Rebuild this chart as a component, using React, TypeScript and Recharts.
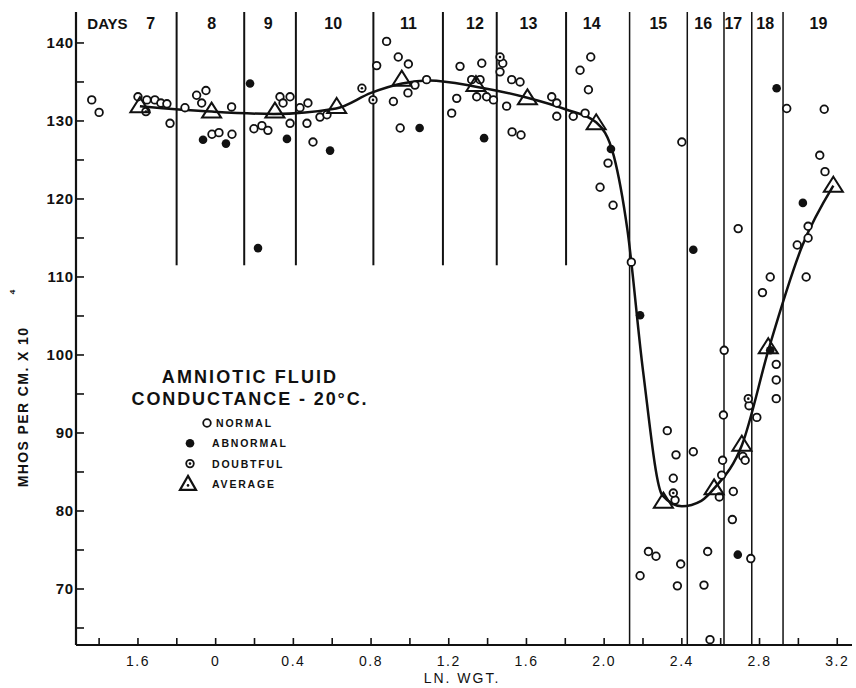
import { ComposedChart, Scatter, Line, XAxis, YAxis, ReferenceLine } from 'recharts'

// x = ln weight, y = conductance (mhos/cm x 10^-4)
const normalPts = [
  [-0.638, 132.7], [-0.6, 131.1], [-0.4, 133.1], [-0.354, 132.7], [-0.313, 132.7], [-0.282, 132.3], [-0.251, 132.2], [-0.158, 131.7], [-0.235, 129.7],
  [-0.098, 133.3], [-0.05, 133.9], [-0.072, 132.3], [0.082, 131.8], [-0.019, 128.3], [0.017, 128.5], [0.084, 128.3],
  [0.197, 129.0], [0.238, 129.4], [0.269, 128.8], [0.331, 133.1], [0.383, 133.1], [0.347, 132.3], [0.383, 129.7],
  [0.434, 131.7], [0.475, 132.3], [0.47, 129.7], [0.537, 130.5], [0.573, 130.8], [0.501, 127.3],
  [0.88, 140.2], [0.829, 137.1], [0.94, 138.2], [0.992, 137.3], [0.915, 132.5], [0.99, 133.6], [1.026, 134.6], [1.086, 135.3], [0.95, 129.1],
  [1.258, 137.0], [1.37, 137.4], [1.241, 132.9], [1.215, 131.0], [1.318, 135.3], [1.361, 135.3], [1.344, 133.1], [1.395, 133.1], [1.43, 132.7],
  [1.478, 137.4], [1.464, 136.3], [1.524, 135.3], [1.567, 135.0], [1.498, 131.9], [1.526, 128.6], [1.572, 128.2], [1.73, 133.1], [1.756, 132.3], [1.756, 130.6],
  [1.841, 130.6], [1.902, 131.0], [1.876, 136.5], [1.931, 138.2], [1.919, 134.0], [1.979, 121.5], [2.02, 124.6], [2.046, 119.2],
  [2.14, 111.9], [2.325, 90.3], [2.37, 87.2], [2.356, 84.2], [2.365, 81.4], [2.228, 74.8], [2.267, 74.2], [2.185, 71.7], [2.394, 73.2], [2.377, 70.4], [2.4, 127.3],
  [2.459, 87.6], [2.533, 74.8], [2.514, 70.5], [2.545, 63.5], [2.593, 81.8], [2.61, 86.5], [2.605, 84.6], [2.614, 92.3],
  [2.69, 116.2], [2.618, 100.6], [2.665, 82.5], [2.66, 78.9], [2.714, 87.0], [2.726, 86.5], [2.746, 93.5],
  [2.755, 73.9], [2.786, 92.0], [2.815, 108.0], [2.855, 110.0], [2.886, 98.8], [2.886, 96.8], [2.886, 94.4],
  [2.94, 131.6], [2.994, 114.1], [3.05, 116.5], [3.05, 115.0], [3.04, 110.0], [3.11, 125.6], [3.137, 123.5], [3.133, 131.5],
]
const abnormalPts = [
  [-0.065, 127.6], [0.053, 127.1], [0.177, 134.8], [0.218, 113.7], [0.367, 127.7], [0.589, 126.2], [1.05, 129.1], [1.382, 127.8],
  [2.035, 126.4], [2.185, 105.1], [2.459, 113.5], [2.688, 74.4], [2.888, 134.2], [2.855, 100.6], [3.023, 119.5],
]
const doubtfulPts = [
  [-0.359, 131.2], [0.753, 134.2], [0.81, 132.7], [1.464, 138.2], [2.356, 82.3], [2.742, 94.4],
]
const averagePts = [
  [-0.39, 131.9], [-0.021, 131.2], [0.305, 131.2], [0.623, 131.8], [0.958, 135.3], [1.34, 134.6], [1.605, 132.9],
  [1.959, 129.7], [2.305, 81.2], [2.566, 82.9], [2.709, 88.5], [2.845, 101.0], [3.18, 121.7],
]
const curvePts = [
  [-0.39, 131.9], [-0.02, 131.2], [0.3, 130.9], [0.62, 131.6], [0.8, 133.6], [0.96, 134.8], [1.1, 135.2], [1.34, 134.4],
  [1.6, 133.0], [1.8, 131.5], [1.96, 129.8], [2.05, 125.5], [2.12, 116], [2.2, 98], [2.3, 82], [2.4, 80.6], [2.5, 81.3],
  [2.57, 83], [2.71, 88.5], [2.85, 101], [3.02, 114], [3.18, 121.7],
]
const shortBounds = [-0.201, 0.147, 0.413, 0.812, 1.17, 1.447, 1.804]
const longBounds = [2.131, 2.428, 2.617, 2.76, 2.921]
const dayX = [-0.557, -0.335, -0.021, 0.271, 0.605, 0.992, 1.335, 1.61, 1.936, 2.279, 2.51, 2.665, 2.829, 3.103]
const dayText = ['DAYS', '7', '8', '9', '10', '11', '12', '13', '14', '15', '16', '17', '18', '19']
const xTicks = [-0.6, -0.4, -0.2, 0, 0.2, 0.4, 0.6, 0.8, 1.0, 1.2, 1.4, 1.6, 1.8, 2.0, 2.2, 2.4, 2.6, 2.8, 3.0, 3.2]
const xLabelVals = [-0.4, 0, 0.4, 0.8, 1.2, 1.6, 2.0, 2.4, 2.8, 3.2]
const xLabelText = ['1.6', '0', '0.4', '0.8', '1.2', '1.6', '2.0', '2.4', '2.8', '3.2']
const yTicks = [65, 70, 75, 80, 85, 90, 95, 100, 105, 110, 115, 120, 125, 130, 135, 140]

const X_DOM: [number, number] = [-0.719, 3.276]
const Y_DOM: [number, number] = [62.82, 143.97]
const SHORT_BOTTOM = 111.5
const DAY_Y = 142.6
const FONT = '"Liberation Sans", Arial, sans-serif'
const INK = '#111'

const toXY = (pts: number[][]) => pts.map(([x, y]) => ({ x, y }))
const dayData = dayX.map((x, i) => ({ x, y: DAY_Y, t: dayText[i] }))

const Hollow = (p: any) => <circle cx={p.cx} cy={p.cy} r={3.8} fill="#fff" stroke={INK} strokeWidth={1.8} />
const Solid = (p: any) => <circle cx={p.cx} cy={p.cy} r={4.3} fill={INK} />
const Dotted = (p: any) => (
  <g>
    <circle cx={p.cx} cy={p.cy} r={3.8} fill="#fff" stroke={INK} strokeWidth={1.8} />
    <circle cx={p.cx} cy={p.cy} r={1.3} fill={INK} />
  </g>
)
const Tri = (p: any) => (
  <path d={`M${p.cx},${p.cy - 9}L${p.cx + 9.5},${p.cy + 6}L${p.cx - 9.5},${p.cy + 6}Z`} fill="none" stroke={INK} strokeWidth={2} />
)
const DayLabel = (p: any) => {
  const t = p.payload?.t ?? p.t
  return (
    <text x={p.cx} y={p.cy} dy={6} textAnchor="middle" fontFamily={FONT} fontWeight={700} fontSize={t === 'DAYS' ? 15 : 16} fill={INK}>
      {t}
    </text>
  )
}

const XTick = ({ x, y, payload }: any) => {
  const i = xLabelVals.findIndex(v => Math.abs(v - payload.value) < 1e-6)
  return (
    <g>
      <line x1={x} y1={y} x2={x} y2={y - 7} stroke={INK} strokeWidth={1.6} />
      {i >= 0 && (
        <text x={x} y={y + 21} textAnchor="middle" fontFamily={FONT} fontSize={14} fill={INK} letterSpacing={1.5}>
          {xLabelText[i]}
        </text>
      )}
    </g>
  )
}
const YTick = ({ x, y, payload }: any) => (
  <g>
    <line x1={x} y1={y} x2={x + 8} y2={y} stroke={INK} strokeWidth={1.6} />
    {payload.value % 10 === 0 && (
      <text x={x - 2} y={y} dy={5} textAnchor="end" fontFamily={FONT} fontWeight={700} fontSize={15} letterSpacing={0.8} fill={INK}>
        {payload.value}
      </text>
    )}
  </g>
)

const YLabel = () => (
  <g>
    <text x={28} y={407} transform="rotate(-90 28 407)" textAnchor="middle" fontFamily={FONT} fontWeight={700} fontSize={14} letterSpacing={1.4} fill={INK}>
      MHOS PER CM. X 10
    </text>
    <text x={15} y={292} transform="rotate(-90 15 292)" textAnchor="middle" fontFamily={FONT} fontWeight={700} fontSize={8} fill={INK}>
      4
    </text>
  </g>
)
const XLabel = () => (
  <text x={462} y={683} textAnchor="middle" fontFamily={FONT} fontSize={14} letterSpacing={2} fill={INK}>
    LN.  WGT.
  </text>
)

const legendRows = [
  { name: 'NORMAL', kind: 'n' },
  { name: 'ABNORMAL', kind: 'a' },
  { name: 'DOUBTFUL', kind: 'd' },
  { name: 'AVERAGE', kind: 't' },
]
const LegendBox = () => (
  <svg width={300} height={140} style={{ position: 'absolute', left: 120, top: 354 }}>
    <text x={130} y={29} textAnchor="middle" fontFamily={FONT} fontWeight={700} fontSize={18} letterSpacing={2.1} fill={INK}>AMNIOTIC  FLUID</text>
    <text x={130} y={51} textAnchor="middle" fontFamily={FONT} fontWeight={700} fontSize={18} letterSpacing={1.9} fill={INK}>CONDUCTANCE - 20°C.</text>
    {legendRows.map((r, i) => {
      const cy = 69 + i * 20.3
      const sx = r.kind === 'n' ? 87 : 70
      return (
        <g key={r.name}>
          {r.kind === 'n' && <Hollow cx={sx} cy={cy} />}
          {r.kind === 'a' && <Solid cx={sx} cy={cy} />}
          {r.kind === 'd' && <Dotted cx={sx} cy={cy} />}
          {r.kind === 't' && (
            <g>
              <path d={`M${sx - 2},${cy - 8}L${sx + 6},${cy + 6}L${sx - 10},${cy + 6}Z`} fill="none" stroke={INK} strokeWidth={2.2} />
              <circle cx={sx - 2} cy={cy + 1.5} r={1.3} fill={INK} />
            </g>
          )}
          <text x={r.kind === 'n' ? 96 : 92} y={cy} dy={4} fontFamily={FONT} fontWeight={700} fontSize={10.5} letterSpacing={1.8} fill={INK}>
            {r.name}
          </text>
        </g>
      )
    })}
  </svg>
)

export default function App() {
  return (
    <div style={{ position: 'absolute', left: 0, top: 0, width: 856, height: 688, background: '#fff' }}>
      <ComposedChart width={856} height={688} margin={{ top: 12, right: 4, left: 36, bottom: 13 }}>
        <XAxis
          type="number" dataKey="x" domain={X_DOM} ticks={xTicks} allowDataOverflow
          height={30} tickSize={0} tickMargin={0} tick={<XTick />} interval={0}
          axisLine={{ stroke: INK, strokeWidth: 2.2 }} tickLine={false} label={<XLabel />}
        />
        <YAxis
          type="number" dataKey="y" domain={Y_DOM} ticks={yTicks} allowDataOverflow
          width={40} tickSize={0} tickMargin={0} tick={<YTick />} interval={0}
          axisLine={{ stroke: INK, strokeWidth: 2.2 }} tickLine={false} label={<YLabel />}
        />
        {shortBounds.map(b => (
          <ReferenceLine key={b} segment={[{ x: b, y: SHORT_BOTTOM }, { x: b, y: Y_DOM[1] }]} stroke={INK} strokeWidth={2} />
        ))}
        {longBounds.map(b => (
          <ReferenceLine key={b} x={b} stroke={INK} strokeWidth={1.5} />
        ))}
        <Line data={toXY(curvePts)} dataKey="y" type="monotone" stroke={INK} strokeWidth={2.5} dot={false} activeDot={false} isAnimationActive={false} />
        <Scatter data={toXY(normalPts)} shape={Hollow} isAnimationActive={false} />
        <Scatter data={toXY(abnormalPts)} shape={Solid} isAnimationActive={false} />
        <Scatter data={toXY(doubtfulPts)} shape={Dotted} isAnimationActive={false} />
        <Scatter data={toXY(averagePts)} shape={Tri} isAnimationActive={false} />
        <Scatter data={dayData} shape={DayLabel} isAnimationActive={false} />
      </ComposedChart>
      <LegendBox />
    </div>
  )
}
